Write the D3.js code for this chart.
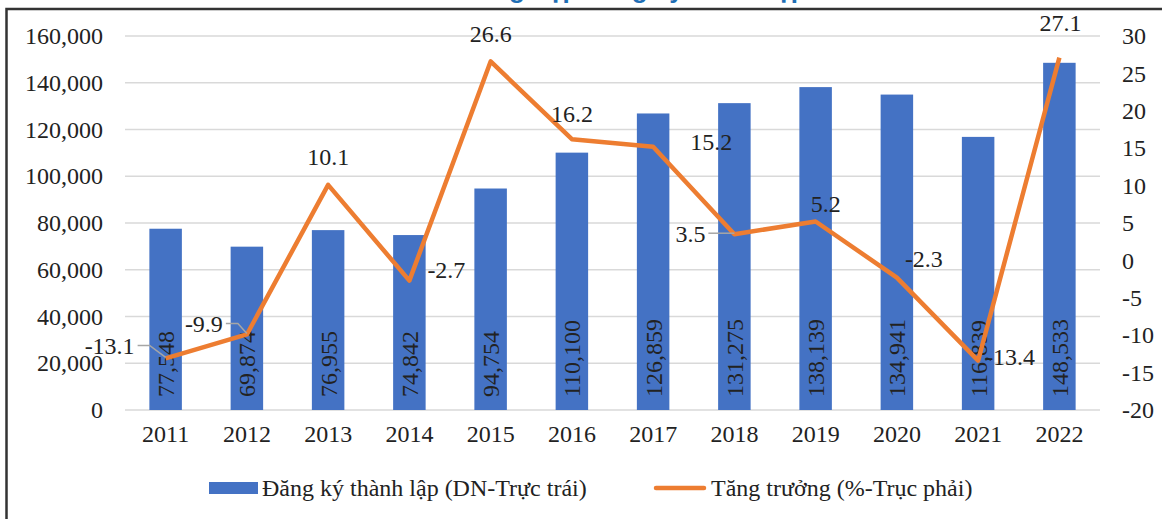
<!DOCTYPE html>
<html>
<head>
<meta charset="utf-8">
<script src="https://cdn.jsdelivr.net/npm/d3@7"></script>
<style>
  body { margin: 0; background: #fff; }
  svg text { font-family: "Liberation Serif", "Times New Roman", Times, serif; }
</style>
</head>
<body>
<svg id="chart" width="1162" height="519"></svg>
<script>
const years = ["2011", "2012", "2013", "2014", "2015", "2016", "2017", "2018", "2019", "2020", "2021", "2022"];
const registered = [77548, 69874, 76955, 74842, 94754, 110100, 126859, 131275, 138139, 134941, 116839, 148533];
const growth = [-13.1, -9.9, 10.1, -2.7, 26.6, 16.2, 15.2, 3.5, 5.2, -2.3, -13.4, 27.1];
const leftTicks = [0, 20000, 40000, 60000, 80000, 100000, 120000, 140000, 160000];
const rightTicks = [-20, -15, -10, -5, 0, 5, 10, 15, 20, 25, 30];
const barName = "Đăng ký thành lập (DN-Trực trái)";
const lineName = "Tăng trưởng (%-Trục phải)";

const blue = "#4472C4", orange = "#ED7D31";
const serif = '"Liberation Serif", "Times New Roman", Times, serif';
const fs = "24px";
const svg = d3.select("#chart");

// title (mostly cut off above the frame)
svg.append("text")
    .attr("x", 615).attr("y", -2)
    .attr("text-anchor", "middle")
    .style("font-family", "Arial, 'Liberation Sans', sans-serif")
    .style("font-weight", "bold")
    .style("font-size", "26px")
    .style("fill", "#1F6FB5")
    .text("Số doanh nghiệp đăng ký thành lập mới");

// frame, cropped right and bottom
svg.append("rect")
    .attr("x", 6.5).attr("y", 9)
    .attr("width", 1200).attr("height", 560)
    .style("fill", "none").style("stroke", "#333").style("stroke-width", 2.5);

const x = d3.scaleBand().domain(years).range([125, 1100]).paddingInner(0.6).paddingOuter(0.3);
const yL = d3.scaleLinear().domain([0, 160000]).range([410, 36]);
const yR = d3.scaleLinear().domain([-20, 30]).range([410, 36]);
const fmt = d3.format(",");

// gridlines
svg.append("g").selectAll("line").data(leftTicks).enter().append("line")
    .attr("x1", 125).attr("x2", 1100)
    .attr("y1", d => yL(d)).attr("y2", d => yL(d))
    .style("stroke", "#d9d9d9").style("stroke-width", 1.5);

function styleAxis(g) {
    g.attr("font-family", serif).attr("font-size", fs);
    g.select(".domain").remove();
    g.selectAll("text").style("font-family", serif).style("font-size", fs).style("fill", "#222");
}

// left axis
svg.append("g").attr("transform", "translate(103,0)")
    .call(d3.axisLeft(yL).tickValues(leftTicks).tickFormat(fmt).tickSize(0).tickPadding(0))
    .call(styleAxis);

// right axis
svg.append("g").attr("transform", "translate(1122,0)")
    .call(d3.axisRight(yR).tickValues(rightTicks).tickFormat(d => String(d)).tickSize(0).tickPadding(0))
    .call(styleAxis);

// x axis
svg.append("g").attr("transform", "translate(0,410)")
    .call(d3.axisBottom(x).tickSize(0).tickPadding(15))
    .call(styleAxis);

// bars
svg.append("g").selectAll("rect").data(registered).enter().append("rect")
    .attr("x", (d, i) => x(years[i]))
    .attr("y", d => yL(d))
    .attr("width", x.bandwidth())
    .attr("height", d => yL(0) - yL(d))
    .style("fill", blue);

// bar labels, rotated, inside base
svg.append("g").selectAll("text").data(registered).enter().append("text")
    .attr("transform", (d, i) => `translate(${x(years[i]) + x.bandwidth() / 2},397) rotate(-90)`)
    .attr("dy", "0.35em")
    .style("font-family", serif).style("font-size", fs).style("fill", "#222")
    .text(d => fmt(d));

// growth line
const cx = i => x(years[i]) + x.bandwidth() / 2;
const line = d3.line().x((d, i) => cx(i)).y(d => yR(d));
svg.append("path").datum(growth)
    .attr("d", line)
    .style("fill", "none").style("stroke", orange).style("stroke-width", 4.5)
    .style("stroke-linejoin", "round");

// label placement for the growth values: [dx, dy, anchor, leader]
const labelPlacement = [
    [-31, -13, "end", true], [-24, -11, "end", true], [0, -28, "middle", false],
    [18, -11, "start", false], [0, -28, "middle", false], [0, -26, "middle", false],
    [37, -5, "start", false], [-29, -1, "end", true], [10, -18, "middle", false],
    [8, -19, "start", false], [7, -4, "start", false], [1, -35, "middle", false]
];

const lbl = svg.append("g");
growth.forEach((v, i) => {
    const px = cx(i), py = yR(v);
    const p = labelPlacement[i];
    if (p[3]) {
        const lx = px + p[0] + 3, ly = py + p[1];
        lbl.append("polyline")
            .attr("points", `${lx},${ly} ${lx + 12},${ly} ${px},${py - 1}`)
            .style("fill", "none").style("stroke", "#a6a6a6").style("stroke-width", 1.5);
    }
    lbl.append("text")
        .attr("x", px + p[0]).attr("y", py + p[1])
        .attr("dy", "0.35em")
        .attr("text-anchor", p[2])
        .style("font-family", serif).style("font-size", fs).style("fill", "#222")
        .text(String(v));
});

// legend
const lg = svg.append("g");
lg.append("rect").attr("x", 209).attr("y", 482).attr("width", 49).attr("height", 12).style("fill", blue);
lg.append("text").attr("x", 262).attr("y", 488).attr("dy", "0.35em")
    .style("font-family", serif).style("font-size", fs).style("fill", "#222").text(barName);
lg.append("line").attr("x1", 656).attr("x2", 704).attr("y1", 488).attr("y2", 488)
    .style("stroke", orange).style("stroke-width", 4.5).style("stroke-linecap", "round");
lg.append("text").attr("x", 711).attr("y", 488).attr("dy", "0.35em")
    .style("font-family", serif).style("font-size", fs).style("fill", "#222").text(lineName);
</script>
</body>
</html>
